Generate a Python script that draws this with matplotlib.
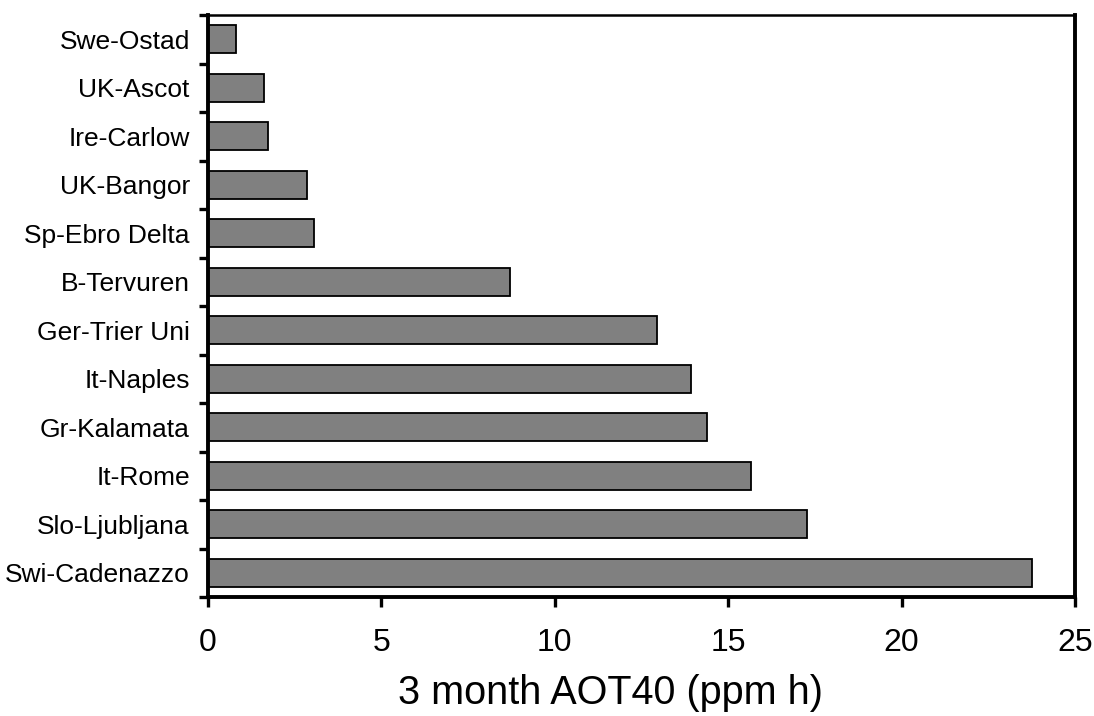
import matplotlib.pyplot as plt
import numpy as np

plt.rcParams['font.family'] = ['Liberation Sans', 'DejaVu Sans']

sites = ['Swe-Ostad', 'UK-Ascot', 'Ire-Carlow', 'UK-Bangor', 'Sp-Ebro Delta',
         'B-Tervuren', 'Ger-Trier Uni', 'It-Naples', 'Gr-Kalamata', 'It-Rome',
         'Slo-Ljubljana', 'Swi-Cadenazzo']
aot40 = [0.80, 1.61, 1.72, 2.87, 3.05, 8.72, 12.95, 13.93, 14.38, 15.66, 17.27, 23.75]
x_ticks = [0, 5, 10, 15, 20, 25]


def main():
    fig = plt.figure(figsize=(10.94, 7.16), dpi=100)
    ax = fig.add_axes([0.190, 0.166, 0.7926, 0.813])

    pos = np.arange(len(sites))
    ax.barh(pos, aot40, height=0.58, color='#808080', edgecolor='black', linewidth=1.3)

    ax.set_xlim(0, 25)
    ax.set_ylim(len(sites) - 0.5, -0.5)

    # labels at bar centres, tick marks at category boundaries
    ax.set_yticks(pos)
    ax.set_yticklabels(sites, fontsize=19)
    ax.set_yticks(np.arange(len(sites) + 1) - 0.5, minor=True)
    ax.tick_params(axis='y', which='major', length=0, pad=13)
    ax.tick_params(axis='y', which='minor', direction='out', length=6.5, width=2.4)

    ax.set_xticks(x_ticks)
    ax.set_xticklabels([str(t) for t in x_ticks], fontsize=23)
    ax.tick_params(axis='x', direction='out', length=7.5, width=2.4, pad=15)
    ax.set_xlabel('3 month AOT40 (ppm h)', fontsize=28.5, labelpad=11)
    ax.xaxis.label.set_x(0.464)

    for side in ['left', 'bottom', 'right']:
        ax.spines[side].set_linewidth(2.8)
    ax.spines['top'].set_linewidth(1.8)

    fig.savefig('out.png', dpi=100)


if __name__ == '__main__':
    main()
